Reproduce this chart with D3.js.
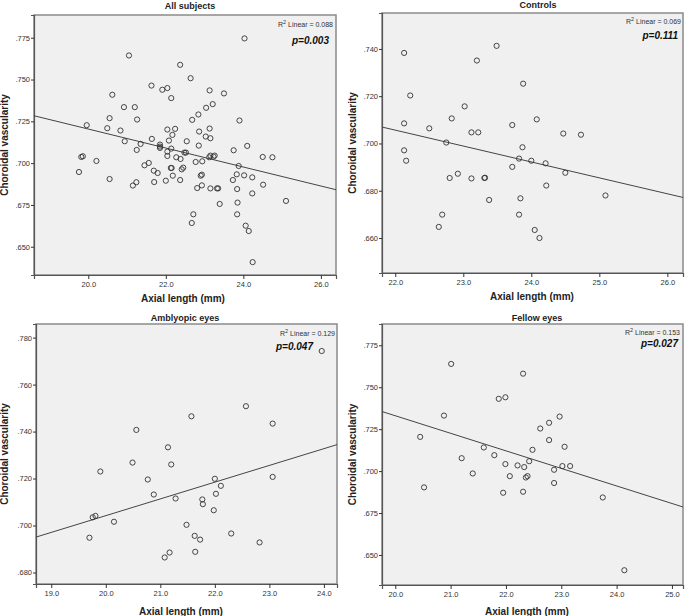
<!DOCTYPE html>
<html>
<head>
<meta charset="utf-8">
<script src="https://cdn.jsdelivr.net/npm/d3@7/dist/d3.min.js"></script>
<style>
  body { margin: 0; background: #fff; }
  svg { display: block; font-family: "Liberation Sans", Arial, sans-serif; }
</style>
</head>
<body>
<svg id="chart" width="685" height="616"></svg>
<script>
// All subjects
var allX = [19.76, 19.82, 19.86, 19.96, 20.21, 20.49, 20.55, 20.55, 20.62, 20.83, 20.92, 20.94, 21.05, 21.15, 21.20, 21.24, 21.25, 21.26, 21.35, 21.45,
  21.56, 21.63, 21.64, 21.69, 21.70, 21.79, 21.85, 21.85, 21.85, 21.91, 22.00, 22.04, 22.04, 22.04, 22.04, 22.08, 22.14, 22.14, 22.13, 22.15,
  22.17, 22.18, 22.24, 22.27, 22.37, 22.37, 22.38, 22.41, 22.45, 22.48, 22.52, 22.54, 22.64, 22.68, 22.67, 22.71, 22.77, 22.81, 22.84, 22.85,
  22.86, 22.90, 22.93, 22.93, 22.94, 23.03, 23.04, 23.12, 23.13, 23.13, 23.15, 23.15, 23.15, 23.21, 23.23, 23.26, 23.32, 23.35, 23.39, 23.50,
  23.73, 23.75, 23.83, 23.84, 23.84, 23.85, 23.88, 23.90, 24.02, 24.03, 24.06, 24.10, 24.14, 24.23, 24.23, 24.24, 24.50, 24.51, 24.75, 25.10];
var allY = [.6947, .7037, .7041, .7227, .7013, .7209, .7269, .6905, .7409, .7195, .7335, .7131, .7644, .6866, .7335, .6886, .7079, .7261, .7115, .6987,
  .7001, .7464, .7145, .6955, .6887, .6941, .7111, .7099, .7091, .7439, .6895, .7449, .7201, .7069, .7043, .7135, .7389, .7087, .6971, .6971,
  .7169, .6925, .7205, .7035, .7588, .6899, .7025, .6963, .6973, .7063, .7063, .7131, .7508, .7259, .6642, .6694, .7007, .6851, .7291, .7105,
  .7189, .6925, .6931, .6867, .7011, .7159, .7331, .7035, .7435, .7207, .7149, .6849, .7045, .7353, .7039, .7045, .6849, .6849, .6756, .7417,
  .6899, .7077, .6933, .6845, .6694, .6764, .6983, .7255, .6927, .7746, .6626, .7103, .6594, .6915, .6819, .6408, .7037, .6871, .7035, .6774];

// Controls
var controlX = [22.13, 22.22, 22.13, 22.13, 22.16, 22.50, 22.69, 22.64, 22.75, 22.80, 22.83, 22.92, 23.02, 23.12, 23.12, 23.20, 23.22, 23.31, 23.32,
  23.38, 23.49, 23.72, 23.72, 23.82, 23.84, 23.82, 23.87, 23.88, 24.00, 24.05, 24.08, 24.12, 24.21, 24.22, 24.47, 24.50, 24.73, 25.09];
var controlY = [.7383, .7203, .7085, .6971, .6927, .7064, .6699, .6647, .7004, .6854, .7106, .6872, .7157, .7047, .6852, .7351, .7047, .6854, .6855,
  .6761, .7413, .7078, .6901, .6699, .6768, .6936, .6984, .7253, .6927, .6634, .7102, .6600, .6916, .6822, .7042, .6876, .7037, .6780];

// Amblyopic eyes
var amblyX = [19.70, 19.76, 19.81, 19.90, 20.15, 20.49, 20.56, 20.77, 20.88, 21.08, 21.14, 21.17, 21.20, 21.28, 21.48, 21.57, 21.63, 21.64,
  21.73, 21.77, 21.78, 21.98, 22.00, 22.02, 22.11, 22.30, 22.57, 22.82, 23.06, 23.06, 23.96];
var amblyY = [.6948, .7035, .7041, .7230, .7016, .7268, .7407, .7196, .7132, .6864, .7333, .6885, .7260, .7115, .7003, .7465, .6956, .6888,
  .6940, .7111, .7091, .7065, .7199, .7135, .7169, .6966, .7508, .6928, .7434, .7207, .7743];

// Fellow eyes
var fellowX = [20.45, 20.52, 20.88, 21.01, 21.20, 21.40, 21.60, 21.79, 21.87, 21.95, 21.99, 21.99, 22.07, 22.21, 22.31, 22.31, 22.33, 22.36,
  22.39, 22.42, 22.48, 22.62, 22.78, 22.78, 22.87, 22.87, 22.97, 23.02, 23.06, 23.16, 23.75, 24.14];
var fellowY = [.7204, .6903, .7331, .7639, .7077, .6986, .7141, .7095, .7431, .6871, .7440, .7042, .6970, .7034, .7581, .6877, .7024, .6962,
  .6970, .7059, .7127, .7254, .7288, .7185, .6929, .7008, .7325, .7030, .7145, .7030, .6843, .6409];

// fit lines: [intercept, slope]
var allFit = [.8340, -.00568];
var controlFit = [.8537, -.00673];
var amblyFit = [.5616, .00713];
var fellowFit = [.9422, -.01046];

var titles = ["All subjects", "Controls", "Amblyopic eyes", "Fellow eyes"];
var r2Labels = ["0.088", "0.069", "0.129", "0.153"];
var pLabels = ["p=0.003", "p=0.111", "p=0.047", "p=0.027"];

var allXTicks = [20, 22, 24, 26];
var allYTicks = [.650, .675, .700, .725, .750, .775];
var controlXTicks = [22, 23, 24, 25, 26];
var controlYTicks = [.660, .680, .700, .720, .740];
var amblyXTicks = [19, 20, 21, 22, 23, 24];
var amblyYTicks = [.680, .700, .720, .740, .760, .780];
var fellowXTicks = [20, 21, 22, 23, 24, 25];
var fellowYTicks = [.650, .675, .700, .725, .750, .775];

var panels = [
	{xs: allX, ys: allY, fit: allFit, xt: allXTicks, yt: allYTicks,
	 box: [34, 15, 336, 275], xd: [18.6, 26.39], yd: [.6331, .7886],
	 titleX: 190, titleY: 9, ylabX: 8, xlabX: 183, xlabY: 302,
	 r2X: 333, r2Y: 27, pX: 329, pY: 44},
	{xs: controlX, ys: controlY, fit: controlFit, xt: controlXTicks, yt: controlYTicks,
	 box: [382, 13, 683, 273], xd: [21.805, 26.23], yd: [.6452, .7552],
	 titleX: 538, titleY: 8, ylabX: 356, xlabX: 532, xlabY: 300,
	 r2X: 681, r2Y: 24, pX: 678, pY: 39},
	{xs: amblyX, ys: amblyY, fit: amblyFit, xt: amblyXTicks, yt: amblyYTicks,
	 box: [36, 324, 337, 584], xd: [18.72, 24.24], yd: [.6751, .7858],
	 titleX: 185, titleY: 321, ylabX: 8, xlabX: 181, xlabY: 615,
	 r2X: 335, r2Y: 336, pX: 313, pY: 350},
	{xs: fellowX, ys: fellowY, fit: fellowFit, xt: fellowXTicks, yt: fellowYTicks,
	 box: [382, 324, 683, 585], xd: [19.76, 25.2], yd: [.6321, .7877],
	 titleX: 537, titleY: 321, ylabX: 356, xlabX: 527, xlabY: 615,
	 r2X: 680, r2Y: 335, pX: 678, pY: 347}
];

var svg = d3.select("#chart");
var yFmt = function(d) { return d3.format(".3f")(d).replace(/^0/, ""); };
var xFmt = d3.format(".1f");

panels.forEach(function(p, i) {
	var b = p.box;
	var x = d3.scaleLinear().domain(p.xd).range([b[0], b[2]]);
	var y = d3.scaleLinear().domain(p.yd).range([b[3], b[1]]);
	var g = svg.append("g");

	g.append("rect")
		.attr("x", b[0]).attr("y", b[1])
		.attr("width", b[2] - b[0]).attr("height", b[3] - b[1])
		.attr("fill", "#f0f0f0")
		.attr("stroke", "#8a8a8a")
		.attr("stroke-width", 1.5);

	var yAxis = g.append("g")
		.attr("transform", "translate(" + b[0] + ",0)")
		.call(d3.axisLeft(y).tickValues(p.yt).tickFormat(yFmt).tickSize(3).tickPadding(1));
	var xAxis = g.append("g")
		.attr("transform", "translate(0," + b[3] + ")")
		.call(d3.axisBottom(x).tickValues(p.xt).tickFormat(xFmt).tickSize(4).tickPadding(3));
	[yAxis, xAxis].forEach(function(a) {
		a.select(".domain").attr("stroke", "#555").attr("stroke-width", 1.2);
		a.selectAll(".tick line").attr("stroke", "#333");
		a.selectAll("text").attr("font-size", 7.5).attr("fill", "#333")
			.attr("font-family", "Liberation Sans, Arial, sans-serif");
	});

	var clip = "clip" + i;
	g.append("clipPath").attr("id", clip).append("rect")
		.attr("x", b[0]).attr("y", b[1])
		.attr("width", b[2] - b[0]).attr("height", b[3] - b[1]);

	g.append("line")
		.attr("clip-path", "url(#" + clip + ")")
		.attr("x1", x(p.xd[0])).attr("y1", y(p.fit[0] + p.fit[1] * p.xd[0]))
		.attr("x2", x(p.xd[1])).attr("y2", y(p.fit[0] + p.fit[1] * p.xd[1]))
		.attr("stroke", "#444").attr("stroke-width", 1);

	g.selectAll("circle.pt").data(p.xs).enter().append("circle")
		.attr("class", "pt")
		.attr("cx", function(d) { return x(d); })
		.attr("cy", function(d, j) { return y(p.ys[j]); })
		.attr("r", 2.6)
		.attr("fill", "none")
		.attr("stroke", "#333")
		.attr("stroke-width", 0.9);

	g.append("text")
		.attr("x", p.titleX).attr("y", p.titleY)
		.attr("text-anchor", "middle")
		.attr("font-size", 9).attr("font-weight", "bold").attr("fill", "#222")
		.text(titles[i]);

	g.append("text")
		.attr("transform", "translate(" + p.ylabX + "," + ((b[1] + b[3]) / 2) + ") rotate(-90)")
		.attr("text-anchor", "middle")
		.attr("font-size", 10).attr("font-weight", "bold").attr("fill", "#222")
		.text("Choroidal vascularity");

	g.append("text")
		.attr("x", p.xlabX).attr("y", p.xlabY)
		.attr("text-anchor", "middle")
		.attr("font-size", 10).attr("font-weight", "bold").attr("fill", "#222")
		.text("Axial length (mm)");

	var r2 = g.append("text")
		.attr("x", p.r2X).attr("y", p.r2Y)
		.attr("text-anchor", "end")
		.attr("font-size", 7).attr("fill", "#333");
	r2.append("tspan").text("R");
	r2.append("tspan").attr("dy", -3).attr("font-size", 5.5).text("2");
	r2.append("tspan").attr("dy", 3).text(" Linear = " + r2Labels[i]);

	g.append("text")
		.attr("x", p.pX).attr("y", p.pY)
		.attr("text-anchor", "end")
		.attr("font-size", 10).attr("font-weight", "bold").attr("font-style", "italic")
		.attr("fill", "#111")
		.text(pLabels[i]);
});
</script>
</body>
</html>
